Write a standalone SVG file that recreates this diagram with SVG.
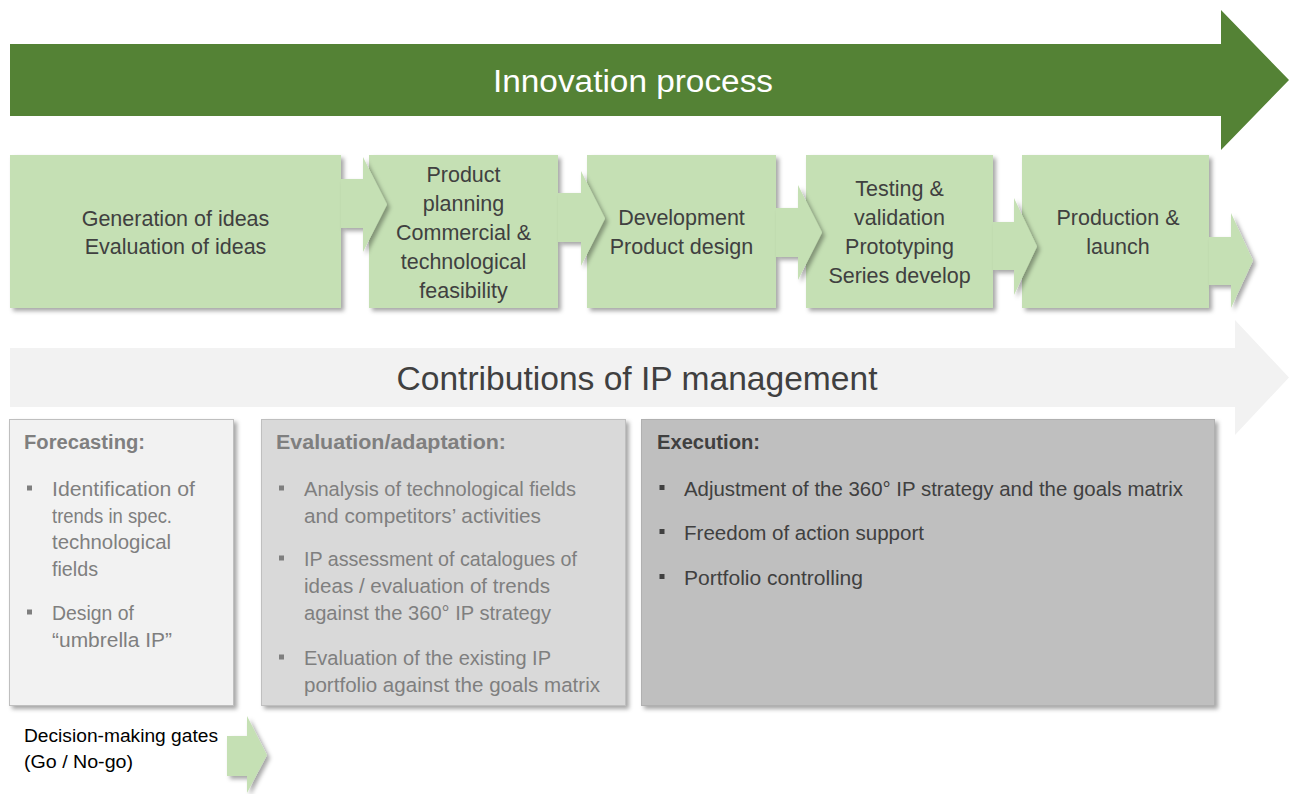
<svg xmlns="http://www.w3.org/2000/svg" width="1289" height="794" viewBox="0 0 1289 794">
<defs>
<filter id="sh" x="-10%" y="-10%" width="130%" height="140%">
<feDropShadow dx="3" dy="3" stdDeviation="2" flood-color="#000" flood-opacity="0.35"/>
</filter>
</defs>
<style>
text{font-family:"Liberation Sans",Arial,sans-serif}
.box{fill:#c5e0b4;filter:url(#sh)}
.con{fill:#c5e0b4;filter:url(#sh)}
.bt{font-size:21.5px;fill:#404040;text-anchor:middle}
.pt{font-size:20.5px}
.hd{font-size:20px;font-weight:bold}
.g1{fill:#7f7f7f}
.g2{fill:#404040}
</style>
<rect width="1289" height="794" fill="#fff"/>

<g id="innovation-arrow">
<polygon points="10,44 1221,44 1221,10 1289,80 1221,150 1221,116 10,116" fill="#548235"/>
<text x="633" y="92" font-size="31" fill="#fff" text-anchor="middle" textLength="280" lengthAdjust="spacingAndGlyphs">Innovation process</text>
</g>

<g id="ip-arrow">
<polygon points="10,348 1235,348 1235,320 1289,377.5 1235,435 1235,407 10,407" fill="#f2f2f2"/>
<text x="637" y="390" font-size="33" fill="#404040" text-anchor="middle" textLength="481" lengthAdjust="spacingAndGlyphs">Contributions of IP management</text>
</g>

<g id="step1">
<rect class="box" x="10" y="155" width="331" height="153"/>
<text class="bt" x="175.5" y="226">Generation of ideas</text>
<text class="bt" x="175.5" y="254">Evaluation of ideas</text>
</g>
<g id="step2">
<rect class="box" x="369" y="155" width="189" height="153"/>
<text class="bt" x="463.5" y="182">Product</text>
<text class="bt" x="463.5" y="211">planning</text>
<text class="bt" x="463.5" y="240">Commercial &amp;</text>
<text class="bt" x="463.5" y="269">technological</text>
<text class="bt" x="463.5" y="298">feasibility</text>
</g>
<g id="step3">
<rect class="box" x="587" y="155" width="189" height="153"/>
<text class="bt" x="681.5" y="225">Development</text>
<text class="bt" x="681.5" y="254">Product design</text>
</g>
<g id="step4">
<rect class="box" x="806" y="155" width="187" height="153"/>
<text class="bt" x="899.5" y="196">Testing &amp;</text>
<text class="bt" x="899.5" y="225">validation</text>
<text class="bt" x="899.5" y="254">Prototyping</text>
<text class="bt" x="899.5" y="283">Series develop</text>
</g>
<g id="step5">
<rect class="box" x="1022" y="155" width="187" height="153"/>
<text class="bt" x="1118" y="225">Production &amp;</text>
<text class="bt" x="1118" y="254">launch</text>
</g>

<g id="connectors">
<polygon class="con" points="341,179 363,179 363,157 387,204.5 363,252 363,228 341,228"/>
<polygon class="con" points="558,193 581,193 581,171 605,218.5 581,266 581,242 558,242"/>
<polygon class="con" points="776,208 798,208 798,185 822,232.5 798,280 798,257 776,257"/>
<polygon class="con" points="993,222 1014,222 1014,198 1037,246.5 1014,295 1014,270 993,270"/>
<polygon class="con" points="1209,237 1231,237 1231,213 1253,260.5 1231,308 1231,285 1209,285"/>
</g>

<g id="forecasting">
<rect x="9.5" y="419.5" width="224" height="286" fill="#f2f2f2" stroke="#bfbfbf" stroke-width="1" filter="url(#sh)"/>
<text class="hd g1" x="24" y="449" textLength="121" lengthAdjust="spacingAndGlyphs">Forecasting:</text>
<rect class="g1" x="27" y="485.5" width="5" height="5"/>
<text class="pt g1" x="52" y="496" textLength="143" lengthAdjust="spacingAndGlyphs">Identification of</text>
<text class="pt g1" x="52" y="522.5" textLength="120" lengthAdjust="spacingAndGlyphs">trends in spec.</text>
<text class="pt g1" x="52" y="549" textLength="119" lengthAdjust="spacingAndGlyphs">technological</text>
<text class="pt g1" x="52" y="575.5" textLength="46" lengthAdjust="spacingAndGlyphs">fields</text>
<rect class="g1" x="27" y="609.5" width="5" height="5"/>
<text class="pt g1" x="52" y="620" textLength="82" lengthAdjust="spacingAndGlyphs">Design of</text>
<text class="pt g1" x="52" y="646.5" textLength="120" lengthAdjust="spacingAndGlyphs">“umbrella IP”</text>
</g>

<g id="evaluation">
<rect x="261.5" y="419.5" width="364" height="286" fill="#d9d9d9" stroke="#bfbfbf" stroke-width="1" filter="url(#sh)"/>
<text class="hd g1" x="276" y="449" textLength="230" lengthAdjust="spacingAndGlyphs">Evaluation/adaptation:</text>
<rect class="g1" x="279" y="485.5" width="5" height="5"/>
<text class="pt g1" x="304" y="496" textLength="272" lengthAdjust="spacingAndGlyphs">Analysis of technological fields</text>
<text class="pt g1" x="304" y="522.5" textLength="237" lengthAdjust="spacingAndGlyphs">and competitors’ activities</text>
<rect class="g1" x="279" y="555.5" width="5" height="5"/>
<text class="pt g1" x="304" y="566" textLength="273" lengthAdjust="spacingAndGlyphs">IP assessment of catalogues of</text>
<text class="pt g1" x="304" y="593" textLength="246" lengthAdjust="spacingAndGlyphs">ideas / evaluation of trends</text>
<text class="pt g1" x="304" y="619.5" textLength="247" lengthAdjust="spacingAndGlyphs">against the 360° IP strategy</text>
<rect class="g1" x="279" y="654.5" width="5" height="5"/>
<text class="pt g1" x="304" y="665" textLength="247" lengthAdjust="spacingAndGlyphs">Evaluation of the existing IP</text>
<text class="pt g1" x="304" y="691.5" textLength="296" lengthAdjust="spacingAndGlyphs">portfolio against the goals matrix</text>
</g>

<g id="execution">
<rect x="641.5" y="419.5" width="573" height="286" fill="#bfbfbf" stroke="#b0b0b0" stroke-width="1" filter="url(#sh)"/>
<text class="hd g2" x="657" y="449" textLength="103" lengthAdjust="spacingAndGlyphs">Execution:</text>
<rect class="g2" x="659.5" y="485" width="5" height="5"/>
<text class="pt g2" x="684" y="495.5" textLength="499" lengthAdjust="spacingAndGlyphs">Adjustment of the 360° IP strategy and the goals matrix</text>
<rect class="g2" x="659.5" y="529" width="5" height="5"/>
<text class="pt g2" x="684" y="539.5" textLength="240" lengthAdjust="spacingAndGlyphs">Freedom of action support</text>
<rect class="g2" x="659.5" y="574" width="5" height="5"/>
<text class="pt g2" x="684" y="585" textLength="179" lengthAdjust="spacingAndGlyphs">Portfolio controlling</text>
</g>

<g id="legend">
<text x="24" y="742" font-size="17.5" fill="#000" textLength="194" lengthAdjust="spacingAndGlyphs">Decision-making gates</text>
<text x="24" y="768" font-size="17.5" fill="#000" textLength="109" lengthAdjust="spacingAndGlyphs">(Go / No-go)</text>
<polygon class="con" points="227,736 247,736 247,716 267,755 247,793 247,776 227,776"/>
</g>
</svg>
